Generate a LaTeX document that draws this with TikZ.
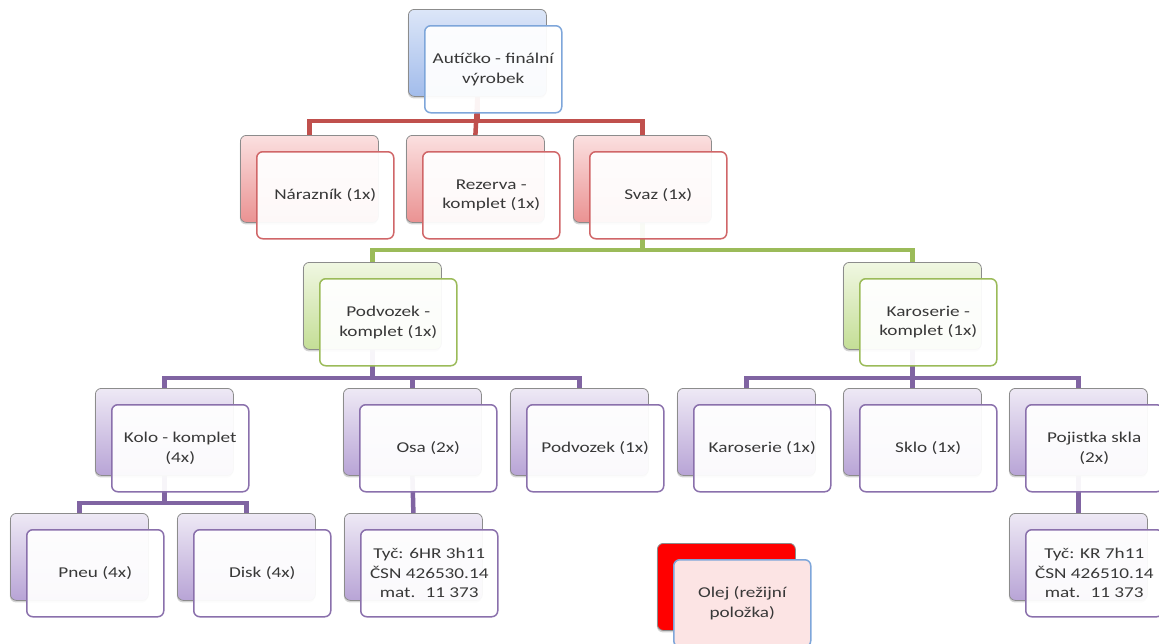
\documentclass[tikz,border=0pt]{standalone}
\usepackage{fontspec}
\newfontfamily\smartfont{Carlito}[FakeStretch=1.28]
\usetikzlibrary{shadows,calc}
\pgfdeclarelayer{background}
\pgfsetlayers{background,main}
\definecolor{bluetop}{HTML}{DCE6F8}
\definecolor{bluebot}{HTML}{A2BCEB}
\definecolor{blueedge}{HTML}{7EA6DA}
\definecolor{redtop}{HTML}{FBE0E0}
\definecolor{redbot}{HTML}{EA9292}
\definecolor{rededge}{HTML}{D06668}
\definecolor{redline}{HTML}{C0504D}
\definecolor{greentop}{HTML}{F0F7E2}
\definecolor{greenbot}{HTML}{C4DE96}
\definecolor{greenedge}{HTML}{9BBB59}
\definecolor{purpletop}{HTML}{EEE9F5}
\definecolor{purplebot}{HTML}{B8A4D6}
\definecolor{purpleedge}{HTML}{8A70AC}
\definecolor{purpleline}{HTML}{8064A2}
\definecolor{olejfront}{HTML}{FCE4E4}
\tikzset{
  back/.style={rectangle, rounded corners=6pt, minimum width=138pt, minimum height=87pt,
    inner sep=0pt, anchor=north west, draw=black!45, line width=0.8pt,
    drop shadow={opacity=0.35, shadow xshift=-0.5pt, shadow yshift=-2pt}},
  front/.style={rectangle, rounded corners=6pt, minimum width=137pt, minimum height=87pt,
    inner sep=2pt, anchor=north west, fill=white, fill opacity=0.94, text opacity=1,
    line width=1.5pt, align=center, text=black!78,
    font=\smartfont\fontsize{15}{19.5}\selectfont},
  blueB/.style={back, top color=bluetop, bottom color=bluebot},
  blueF/.style={front, draw=blueedge},
  redB/.style={back, top color=redtop, bottom color=redbot},
  redF/.style={front, draw=rededge},
  greenB/.style={back, top color=greentop, bottom color=greenbot},
  greenF/.style={front, draw=greenedge},
  purpleB/.style={back, top color=purpletop, bottom color=purplebot},
  purpleF/.style={front, draw=purpleedge},
  olejB/.style={back, fill=red},
  olejF/.style={front, fill=olejfront, fill opacity=1, draw=blueedge},
  link/.style={line width=4.5pt},
  redlink/.style={link, draw=redline},
  greenlink/.style={link, draw=greenedge},
  purplelink/.style={link, draw=purpleline},
}
\newcommand\elem[5]{%
  \node[#4B] (#1B) at (#2pt,-#3pt) {};
  \node[#4F] (#1F) at ([shift={(16pt,-16pt)}]#1B.north west) {#5};
}
\begin{document}
\begin{tikzpicture}
\useasboundingbox (0,0) rectangle (1159pt,-643pt);
\elem{top}{408}{9}{blue}{Autíčko - finální\\výrobek}
\elem{nar}{240}{135}{red}{Nárazník (1x)}
\elem{rez}{406}{135}{red}{Rezerva -\\komplet (1x)}
\elem{svaz}{573}{135}{red}{Svaz (1x)}
\elem{podk}{303}{262}{green}{Podvozek -\\komplet (1x)}
\elem{kark}{843}{262}{green}{Karoserie -\\komplet (1x)}
\elem{kolo}{95}{388}{purple}{Kolo - komplet\\(4x)}
\elem{osa}{343}{388}{purple}{Osa (2x)}
\elem{podv}{510}{388}{purple}{Podvozek (1x)}
\elem{kar}{677}{388}{purple}{Karoserie (1x)}
\elem{sklo}{843}{388}{purple}{Sklo (1x)}
\elem{poj}{1009}{388}{purple}{Pojistka skla\\(2x)}
\elem{pneu}{10}{513}{purple}{Pneu (4x)}
\elem{disk}{177}{513}{purple}{Disk (4x)}
\elem{tyca}{344}{513}{purple}{Tyč: 6HR 3h11\\ČSN 426530.14\\mat.~ 11 373}
\elem{tycb}{1009}{513}{purple}{Tyč: KR 7h11\\ČSN 426510.14\\mat.~ 11 373}
\elem{olej}{657}{543}{olej}{Olej (režijní\\položka)}
\begin{pgfonlayer}{background}
  \coordinate (busA) at (0,-121pt);
  \coordinate (busB) at (0,-250pt);
  \coordinate (busC) at (0,-378pt);
  \coordinate (busD) at (0,-503pt);
  \draw[redlink] (topB.south) -- (topB.south |- busA) -| (narB.north);
  \draw[redlink] (topB.south) -- (rezB.north);
  \draw[redlink] (topB.south) -- (topB.south |- busA) -| (svazB.north);
  \draw[greenlink] (svazB.south) -- (svazB.south |- busB) -| (podkB.north);
  \draw[greenlink] (svazB.south) -- (svazB.south |- busB) -| (karkB.north);
  \draw[purplelink] (podkB.south) -- (podkB.south |- busC) -| (koloB.north);
  \draw[purplelink] (podkB.south) -- (podkB.south |- busC) -| (osaB.north);
  \draw[purplelink] (podkB.south) -- (podkB.south |- busC) -| (podvB.north);
  \draw[purplelink] (karkB.south) -- (karkB.south |- busC) -| (karB.north);
  \draw[purplelink] (karkB.south) -- (skloB.north);
  \draw[purplelink] (karkB.south) -- (karkB.south |- busC) -| (pojB.north);
  \draw[purplelink] (koloB.south) -- (koloB.south |- busD) -| (pneuB.north);
  \draw[purplelink] (koloB.south) -- (koloB.south |- busD) -| (diskB.north);
  \draw[purplelink] (osaB.south) -- (tycaB.north);
  \draw[purplelink] (pojB.south) -- (tycbB.north);
\end{pgfonlayer}
\end{tikzpicture}
\end{document}
